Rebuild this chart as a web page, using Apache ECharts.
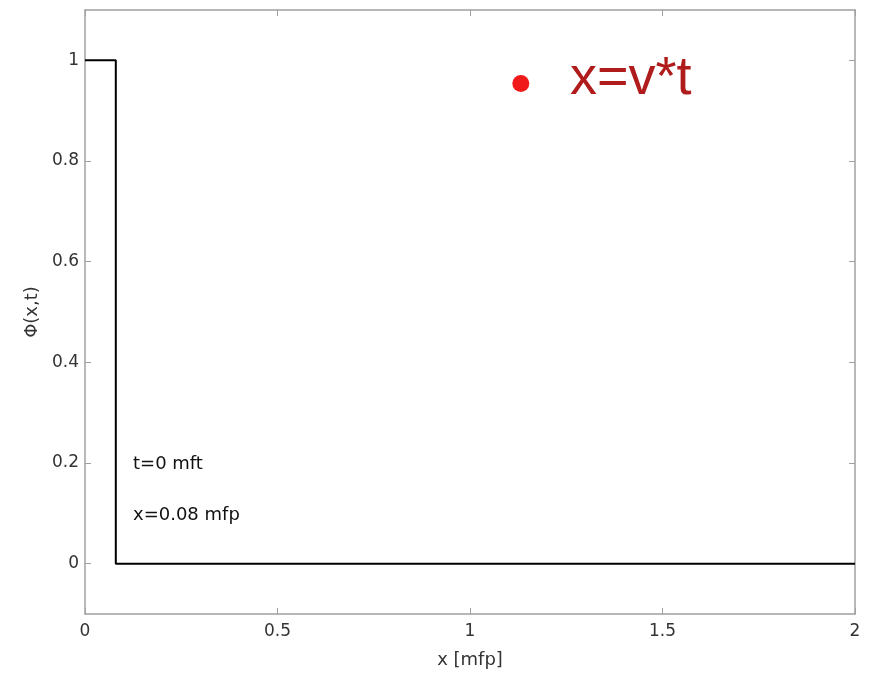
<!DOCTYPE html>
<html><head><meta charset="utf-8">
<script src="https://cdn.jsdelivr.net/npm/echarts@6/dist/echarts.min.js"></script>
<style>html,body{margin:0;padding:0;background:#fff}#c{width:870px;height:674px}</style>
</head><body><div id="c"></div>
<script>
var stepX = [0, 0.08, 0.08, 2];
var stepY = [1, 1, 0, 0];
var dotX = [1.132];
var dotY = [0.954];
var xTicks = [0, 0.5, 1, 1.5, 2];
var yTicks = [0, 0.2, 0.4, 0.6, 0.8, 1];
var xName = 'x [mfp]';
var yName = 'Φ(x,t)';
var note1 = 't=0 mft';
var note2 = 'x=0.08 mfp';
var bigLabel = 'x=v*t';

var chart = echarts.init(document.getElementById('c'));
var axisCol = '#a0a0a0';
var ff = 'DejaVu Sans, sans-serif';
var labelFont = {color: '#333', fontSize: 17, fontFamily: ff};
function xa(pos, show) {
  return {type: 'value', position: pos, min: 0, max: 2,
    axisLine: {show: true, onZero: false, lineStyle: {color: axisCol, width: 1.5}},
    axisTick: {show: true, inside: true, length: 6, customValues: xTicks, lineStyle: {color: axisCol}},
    axisLabel: Object.assign({show: show, margin: 9, customValues: xTicks}, labelFont),
    splitLine: {show: false},
    name: show ? xName : '', nameLocation: 'middle', nameGap: 37,
    nameTextStyle: Object.assign({}, labelFont, {fontSize: 18})};
}
function ya(pos, show) {
  return {type: 'value', position: pos, min: -0.1, max: 1.1,
    axisLine: {show: true, onZero: false, lineStyle: {color: axisCol, width: 1.5}},
    axisTick: {show: true, inside: true, length: 6, customValues: yTicks, lineStyle: {color: axisCol}},
    axisLabel: Object.assign({show: show, margin: 6, customValues: yTicks}, labelFont),
    splitLine: {show: false},
    name: show ? yName : '', nameLocation: 'middle', nameGap: 42, nameRotate: 90,
    nameTextStyle: Object.assign({}, labelFont, {fontSize: 18})};
}
chart.setOption({
  animation: false,
  grid: {left: 85, right: 15, top: 10, bottom: 60},
  xAxis: [xa('bottom', true), xa('top', false)],
  yAxis: [ya('left', true), ya('right', false)],
  series: [
    {type: 'line', data: stepX.map(function(x, i){return [x, stepY[i]];}),
      symbol: 'none', lineStyle: {color: '#000', width: 2}},
    {type: 'scatter', data: dotX.map(function(x, i){return [x, dotY[i]];}),
      symbolSize: 17, itemStyle: {color: '#f01a1a', opacity: 1}}
  ],
  graphic: [
    {type: 'text', left: 133, top: 455, style: {text: note1, fill: '#111', font: '18px DejaVu Sans, sans-serif'}},
    {type: 'text', left: 133, top: 506, style: {text: note2, fill: '#111', font: '18px DejaVu Sans, sans-serif'}},
    {type: 'text', left: 570, top: 52, style: {text: bigLabel, fill: '#b01c1c', font: '54px Liberation Sans, Arial, sans-serif'}}
  ]
});
</script></body></html>
